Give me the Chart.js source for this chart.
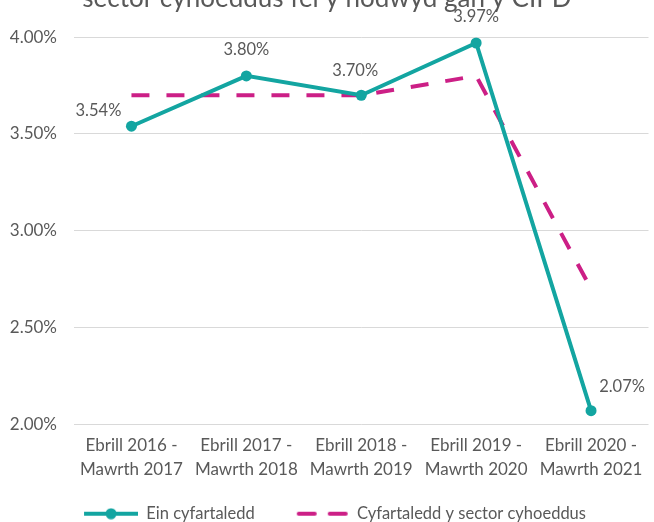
<!DOCTYPE html>
<html>
<head>
<meta charset="utf-8">
<script src="https://cdn.jsdelivr.net/npm/chart.js@4"></script>
<style>
  html, body { margin: 0; padding: 0; background: #fff; overflow: hidden; }
  #wrap { position: absolute; left: 0; top: -30px; width: 654px; height: 562px; }
</style>
</head>
<body>
<div id="wrap"><canvas id="myChart"></canvas></div>
<script>
var categories = [
    ['Ebrill 2016 -', 'Mawrth 2017'],
    ['Ebrill 2017 -', 'Mawrth 2018'],
    ['Ebrill 2018 -', 'Mawrth 2019'],
    ['Ebrill 2019 -', 'Mawrth 2020'],
    ['Ebrill 2020 -', 'Mawrth 2021']
];
var einCyfartaledd = [3.54, 3.80, 3.70, 3.97, 2.07];
var sectorCyhoeddus = [3.70, 3.70, 3.70, 3.80, 2.70];
var yTicks = [2.0, 2.5, 3.0, 3.5, 4.0];

var teal = '#13A5A1';
var magenta = '#CC1F86';
var grey = '#595959';

// legend icons, line drawn on the right part of the box
function lineIcon(dashed) {
    var c = document.createElement('canvas');
    c.width = 70; c.height = 12;
    var x = c.getContext('2d');
    x.lineWidth = 4;
    if (dashed) {
        x.strokeStyle = magenta;
        x.lineCap = 'round';
        x.beginPath(); x.moveTo(20, 6); x.lineTo(36, 6); x.stroke();
        x.beginPath(); x.moveTo(51, 6); x.lineTo(67, 6); x.stroke();
    } else {
        x.strokeStyle = teal;
        x.beginPath(); x.moveTo(16, 6); x.lineTo(70, 6); x.stroke();
        x.fillStyle = teal;
        x.beginPath(); x.arc(43, 6, 5.5, 0, Math.PI * 2); x.fill();
    }
    return c;
}
var legendIcons = [lineIcon(false), lineIcon(true)];

var labelOffsets = [[-33, -16], [0, -26], [-6, -25], [0, -26], [31, -24]];

var pointLabels = {
    id: 'pointLabels',
    afterDatasetsDraw: function(chart) {
        var ctx = chart.ctx;
        var meta = chart.getDatasetMeta(0);
        ctx.save();
        ctx.font = '16.5px Lato';
        ctx.fillStyle = grey;
        ctx.textAlign = 'center';
        ctx.textBaseline = 'middle';
        meta.data.forEach(function(pt, i) {
            var o = labelOffsets[i];
            ctx.fillText(einCyfartaledd[i].toFixed(2) + '%', pt.x + o[0], pt.y + o[1]);
        });
        ctx.restore();
    }
};

var myChart = new Chart(document.getElementById('myChart'), {
    type: 'line',
    data: {
        labels: categories,
        datasets: [{
            label: 'Ein cyfartaledd',
            data: einCyfartaledd,
            borderColor: teal,
            backgroundColor: teal,
            borderWidth: 4,
            pointStyle: 'circle',
            pointRadius: 5.5,
            pointHoverRadius: 5.5,
            pointBorderWidth: 0,
            tension: 0,
            order: 0
        }, {
            label: 'Cyfartaledd y sector cyhoeddus',
            data: sectorCyhoeddus,
            borderColor: magenta,
            backgroundColor: magenta,
            borderWidth: 4,
            borderDash: [18, 17],
            pointRadius: 0,
            tension: 0,
            order: 1
        }]
    },
    options: {
        responsive: true,
        maintainAspectRatio: false,
        animation: false,
        layout: { padding: { left: 0, right: 0, top: 0, bottom: 0 } },
        plugins: {
            title: {
                display: true,
                text: 'sector cyhoeddus fel y nodwyd gan y CIPD',
                color: grey,
                font: { family: 'Lato', size: 26, weight: 'normal' },
                padding: { top: 13, bottom: 23 }
            },
            legend: {
                position: 'bottom',
                labels: {
                    usePointStyle: true,
                    pointStyleWidth: 70,
                    color: grey,
                    font: { family: 'Lato', size: 16.5 },
                    padding: 24,
                    generateLabels: function(chart) {
                        return chart.data.datasets.map(function(ds, i) {
                            return {
                                text: ds.label,
                                pointStyle: legendIcons[i],
                                fontColor: grey,
                                lineWidth: 0,
                                datasetIndex: i
                            };
                        });
                    }
                }
            },
            tooltip: { enabled: false }
        },
        scales: {
            x: {
                offset: true,
                afterFit: function(scale) { scale.height -= 9; },
                grid: { display: false, drawTicks: false },
                border: { display: false },
                ticks: {
                    color: grey,
                    font: { family: 'Lato', size: 17, lineHeight: 1.42 },
                    padding: 9,
                    maxRotation: 0,
                    autoSkip: false
                }
            },
            y: {
                min: 2,
                max: 4,
                afterFit: function(scale) { scale.width = 74; },
                afterBuildTicks: function(scale) {
                    scale.ticks = yTicks.map(function(v) { return { value: v }; });
                },
                grid: { color: '#d9d9d9', lineWidth: 1, drawTicks: false },
                border: { display: false },
                ticks: {
                    color: grey,
                    font: { family: 'Lato', size: 17 },
                    padding: 17,
                    callback: function(v) { return v.toFixed(2) + '%'; }
                }
            }
        }
    },
    plugins: [pointLabels]
});
</script>
</body>
</html>
